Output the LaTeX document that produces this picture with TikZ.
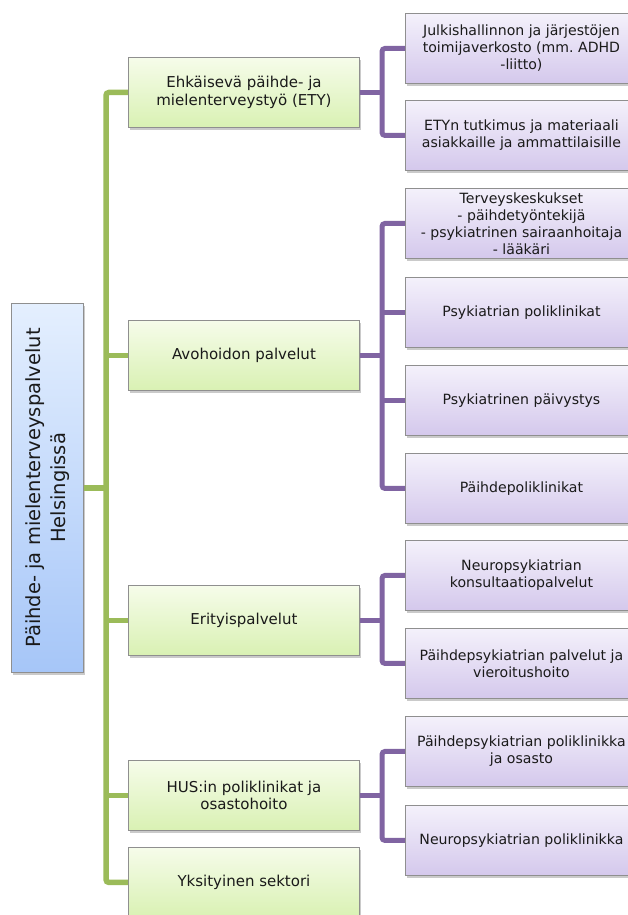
\documentclass[tikz,border=0pt]{standalone}
\usepackage{fontspec}
\setmainfont{DejaVu Sans}
\usetikzlibrary{shadows}
\frenchspacing
\definecolor{gtop}{HTML}{F6FCEA}
\definecolor{gbot}{HTML}{D9F1B3}
\definecolor{ptop}{HTML}{F4F1FB}
\definecolor{pbot}{HTML}{D4C8EC}
\definecolor{btop}{HTML}{E4EFFE}
\definecolor{bbot}{HTML}{A6C6F8}
\definecolor{bordergray}{HTML}{8F8F8F}
\definecolor{gline}{HTML}{9BBB59}
\definecolor{pline}{HTML}{8064A2}
\definecolor{txt}{HTML}{1A1A1A}
\tikzset{
  boxbase/.style={draw=bordergray, line width=0.9pt, anchor=north west, align=center,
    minimum height=70pt, inner sep=0pt, text=txt,
    drop shadow={shadow xshift=2pt, shadow yshift=-3pt, opacity=0.35, fill=black!60}},
  greenbox/.style={boxbase, top color=gtop, bottom color=gbot, minimum width=231pt,
    font=\fontsize{15}{17.5}\selectfont},
  purplebox/.style={boxbase, top color=ptop, bottom color=pbot, minimum width=232pt,
    font=\fontsize{14.1}{17}\selectfont},
  rootbox/.style={boxbase, top color=btop, bottom color=bbot, minimum width=72pt,
    minimum height=369pt},
  gconn/.style={draw=gline, line width=5.5pt, rounded corners=3pt},
  pconn/.style={draw=pline, line width=5pt, rounded corners=3pt}
}
\begin{document}
\begin{tikzpicture}[x=1pt,y=-1pt]
\useasboundingbox (0,0) rectangle (628,915);
\clip (0,0) rectangle (628,915);
\coordinate (tk) at (106,0);
\coordinate (pv) at (382,0);

% root
\node[rootbox] (root) at (11,303) {};
\node[rotate=90, align=center, text=txt, font=\fontsize{19.5}{25}\selectfont] (roottext) at (root.center)
  {Päihde- ja mielenterveyspalvelut\\Helsingissä};

% green boxes
\node[greenbox] (g1) at (128,57) {Ehkäisevä päihde- ja\\mielenterveystyö (ETY)};
\node[greenbox] (g2) at (128,320) {Avohoidon palvelut};
\node[greenbox] (g3) at (128,585) {Erityispalvelut};
\node[greenbox] (g4) at (128,760) {HUS:in poliklinikat ja\\osastohoito};
\node[greenbox] (g5) at (128,847) {Yksityinen sektori};

% purple boxes
\node[purplebox] (p1) at (405,13) {Julkishallinnon ja järjestöjen\\toimijaverkosto (mm. ADHD\\-liitto)};
\node[purplebox] (p2) at (405,100) {ETYn tutkimus ja materiaali\\asiakkaille ja ammattilaisille};
\node[purplebox] (p3) at (405,188) {Terveyskeskukset\\- päihdetyöntekijä\\- psykiatrinen sairaanhoitaja\\- lääkäri};
\node[purplebox] (p4) at (405,277) {Psykiatrian poliklinikat};
\node[purplebox] (p5) at (405,365) {Psykiatrinen päivystys};
\node[purplebox] (p6) at (405,453) {Päihdepoliklinikat};
\node[purplebox] (p7) at (405,540) {Neuropsykiatrian\\konsultaatiopalvelut};
\node[purplebox] (p8) at (405,628) {Päihdepsykiatrian palvelut ja\\vieroitushoito};
\node[purplebox] (p9) at (405,716) {Päihdepsykiatrian poliklinikka\\ja osasto};
\node[purplebox] (p10) at (405,805) {Neuropsykiatrian poliklinikka};

% green connectors
\draw[gconn] (g1.west) -- (g1.west -| tk) -- (g5.west -| tk) -- (g5.west);
\draw[gconn] (root.east) -- (root.east -| tk);
\draw[gconn] (g2.west) -- (g2.west -| tk);
\draw[gconn] (g3.west) -- (g3.west -| tk);
\draw[gconn] (g4.west) -- (g4.west -| tk);

% purple connectors
\draw[pconn] (g1.east) -- (g1.east -| pv);
\draw[pconn] (p1.west) -- (p1.west -| pv) -- (p2.west -| pv) -- (p2.west);
\draw[pconn] (g2.east) -- (g2.east -| pv);
\draw[pconn] (p3.west) -- (p3.west -| pv) -- (p6.west -| pv) -- (p6.west);
\draw[pconn] (p4.west) -- (p4.west -| pv);
\draw[pconn] (p5.west) -- (p5.west -| pv);
\draw[pconn] (g3.east) -- (g3.east -| pv);
\draw[pconn] (p7.west) -- (p7.west -| pv) -- (p8.west -| pv) -- (p8.west);
\draw[pconn] (g4.east) -- (g4.east -| pv);
\draw[pconn] (p9.west) -- (p9.west -| pv) -- (p10.west -| pv) -- (p10.west);
\end{tikzpicture}
\end{document}
